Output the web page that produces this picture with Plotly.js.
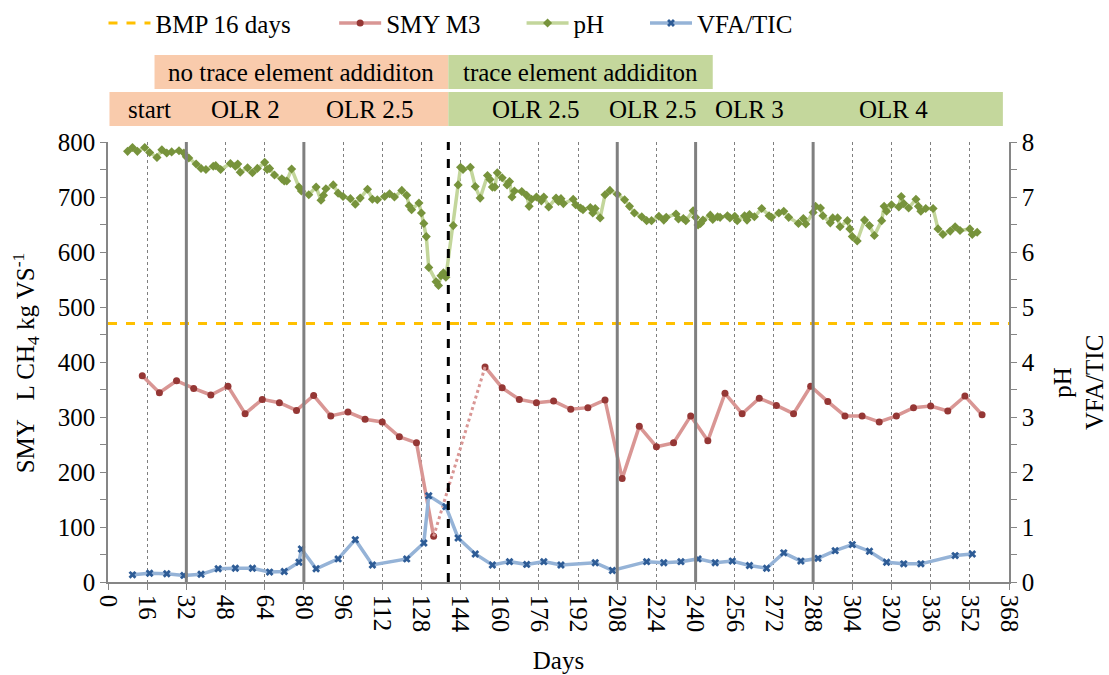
<!DOCTYPE html>
<html><head><meta charset="utf-8">
<script src="https://cdn.plot.ly/plotly-3.0.1.min.js"></script>
<style>html,body{margin:0;padding:0;background:#fff}#chart{width:1109px;height:675px}</style>
</head><body><div id="chart"></div>
<script>
// ---- data ----
const bmpValue = 470;                 // BMP 16 days (L CH4 / kg VS)
const dayRange = [0, 368];

const smyDaysBefore = [14,21,28,35,42,49,56,63,70,77,84,91,98,105,112,119,126,133];
const smyBefore     = [375,344,366,352,340,356,306,332,326,312,339,302,309,296,291,264,253,83];
const smyDaysAfter  = [154,161,168,175,182,189,196,203,210,217,224,231,238,245,252,259,266,273,280,287,294,301,308,315,322,329,336,343,350,357];
const smyAfter      = [391,353,332,326,329,314,317,331,188,283,246,253,302,257,343,306,334,321,306,356,328,302,302,291,302,317,320,311,338,304];

const phDays = [8,10,12,15,17,20,22,24,26,29,31,32,33,36,38,40,43,44,46,50,52,53,54,57,59,61,64,65,66,68,71,72,73,75,78,79,82,85,87,88,89,92,94,96,99,101,103,106,108,110,113,115,117,120,122,123,124,127,128,129,130,131,134,135,136,137,138,141,143,144,145,148,150,152,155,156,157,158,159,161,163,164,165,166,169,171,172,173,175,177,178,180,183,184,185,186,190,191,193,194,197,198,199,201,203,205,208,211,213,215,218,220,222,225,227,228,232,233,235,236,239,240,241,242,243,246,247,249,250,253,254,256,257,260,261,262,264,267,270,271,274,276,278,282,284,285,288,289,291,292,295,296,298,299,302,303,304,306,309,311,313,316,317,318,320,323,324,325,327,330,331,332,334,337,339,341,344,346,348,352,353,355];
const phValues = [7.83,7.90,7.83,7.90,7.81,7.72,7.86,7.80,7.82,7.84,7.80,7.73,7.71,7.60,7.52,7.50,7.56,7.57,7.50,7.61,7.56,7.60,7.45,7.53,7.44,7.52,7.63,7.50,7.52,7.40,7.33,7.29,7.29,7.51,7.18,7.11,7.04,7.18,6.94,7.03,7.15,7.22,7.07,7.01,6.97,6.87,6.98,7.14,6.96,6.95,7.01,7.06,7.00,7.12,7.03,6.84,6.77,6.89,6.71,6.52,6.28,5.72,5.46,5.39,5.57,5.62,5.54,6.48,7.22,7.54,7.50,7.54,7.19,6.98,7.39,7.32,7.18,7.18,7.44,7.35,7.22,7.28,7.00,7.11,7.10,7.03,6.83,6.96,7.00,6.93,7.00,6.82,6.98,6.92,6.97,6.88,6.96,6.86,6.80,6.77,6.81,6.71,6.79,6.62,7.04,7.12,7.05,6.95,6.83,6.71,6.64,6.57,6.57,6.65,6.58,6.63,6.69,6.60,6.61,6.57,6.75,6.63,6.49,6.52,6.58,6.67,6.59,6.64,6.63,6.66,6.62,6.65,6.57,6.66,6.58,6.68,6.64,6.79,6.66,6.63,6.71,6.74,6.63,6.52,6.61,6.51,6.72,6.83,6.80,6.66,6.53,6.62,6.62,6.46,6.57,6.42,6.28,6.20,6.58,6.48,6.30,6.57,6.83,6.74,6.86,6.82,7.01,6.88,6.80,6.96,6.83,6.74,6.79,6.79,6.42,6.32,6.38,6.46,6.39,6.42,6.32,6.36];

const vfaDays = [10,17,24,31,38,45,52,59,66,72,78,79,85,94,101,108,122,129,131,138,143,150,157,164,171,178,185,199,206,220,227,234,241,248,255,262,269,276,283,290,297,304,311,318,325,332,346,353];
const vfaValues = [0.13,0.16,0.15,0.12,0.14,0.24,0.25,0.25,0.18,0.19,0.36,0.60,0.24,0.42,0.77,0.31,0.42,0.71,1.57,1.37,0.80,0.51,0.31,0.37,0.32,0.37,0.31,0.35,0.21,0.37,0.35,0.37,0.42,0.35,0.38,0.30,0.25,0.53,0.38,0.43,0.57,0.68,0.56,0.36,0.33,0.33,0.48,0.51];

// phase boundaries (days)
const olrChanges = [32, 80, 208, 240, 288];
const traceElementStart = 139;
const treatmentBands = [
  {label: 'no trace element addiditon', from: 19, to: 139, color: '#F9CBAC'},
  {label: 'trace element addiditon', from: 139, to: 247, color: '#C4D79C'}
];
const olrBands = [
  {from: 0.6, to: 139, color: '#F9CBAC'},
  {from: 139, to: 365.5, color: '#C4D79C'}
];
const olrLabels = ['start', 'OLR 2', 'OLR 2.5', 'OLR 2.5', 'OLR 2.5', 'OLR 3', 'OLR 4'];
const olrLabelDays = [17, 56, 107, 175, 222.5, 262, 321];

// ---- chart ----
const FONT = '"Liberation Serif", serif';
const axisGrey = '#868686';
const row1 = [1.1203, 1.1975], row2 = [1.0363, 1.1135];
const txt = {family: FONT, size: 25, color: '#000'};

const traces = [
  {x: dayRange, y: dayRange.map(() => bmpValue), name: 'BMP 16 days', mode: 'lines',
   line: {color: '#FFC000', width: 3, dash: 'dash'}, legend: 'legend', hoverinfo: 'skip'},
  {x: smyDaysBefore, y: smyBefore, name: 'SMY M3', mode: 'lines+markers', legendgroup: 'smy',
   line: {color: '#D99694', width: 3.5}, marker: {color: '#953735', size: 7, symbol: 'circle'}, legend: 'legend2'},
  {x: smyDaysAfter, y: smyAfter, name: 'SMY M3', mode: 'lines+markers', legendgroup: 'smy', showlegend: false,
   line: {color: '#D99694', width: 3.5}, marker: {color: '#953735', size: 7, symbol: 'circle'}, legend: 'legend2'},
  {x: [smyDaysBefore[smyDaysBefore.length-1], smyDaysAfter[0]],
   y: [smyBefore[smyBefore.length-1], smyAfter[0]], mode: 'lines', legendgroup: 'smy', showlegend: false,
   line: {color: '#D99694', width: 3, dash: 'dot'}, hoverinfo: 'skip', legend: 'legend2'},
  {x: phDays, y: phValues, name: 'pH', mode: 'lines+markers', yaxis: 'y2',
   line: {color: '#C3D69B', width: 3.5}, marker: {color: '#77933C', size: 7, symbol: 'diamond'}, legend: 'legend3'},
  {x: vfaDays, y: vfaValues, name: 'VFA/TIC', mode: 'lines+markers', yaxis: 'y2',
   line: {color: '#95B3D7', width: 3.5}, marker: {color: '#2E5C96', size: 7, symbol: 'x'}, legend: 'legend4'}
];

const shapes = [];
treatmentBands.forEach(b => shapes.push({type: 'rect', xref: 'x', yref: 'paper', x0: b.from, x1: b.to,
  y0: row1[0], y1: row1[1], fillcolor: b.color, line: {width: 0}, layer: 'below'}));
olrBands.forEach(b => shapes.push({type: 'rect', xref: 'x', yref: 'paper', x0: b.from, x1: b.to,
  y0: row2[0], y1: row2[1], fillcolor: b.color, line: {width: 0}, layer: 'below'}));
olrChanges.forEach(d => shapes.push({type: 'line', xref: 'x', yref: 'paper', x0: d, x1: d, y0: 0, y1: 1,
  line: {color: '#808080', width: 3}}));
shapes.push({type: 'line', xref: 'x', yref: 'paper', x0: traceElementStart, x1: traceElementStart, y0: 0, y1: 1,
  line: {color: '#000000', width: 3, dash: 'dash'}});

const annotations = [];
treatmentBands.forEach(b => annotations.push({xref: 'x', yref: 'paper', x: (b.from + b.to) / 2,
  y: (row1[0] + row1[1]) / 2, xanchor: 'center', yanchor: 'middle', text: b.label, showarrow: false, font: txt}));
olrLabels.forEach((t, i) => annotations.push({xref: 'x', yref: 'paper', x: olrLabelDays[i],
  y: (row2[0] + row2[1]) / 2, xanchor: 'center', yanchor: 'middle', text: t, showarrow: false, font: txt}));
annotations.push({xref: 'paper', yref: 'paper', x: -0.091, y: 0.497, xanchor: 'center', yanchor: 'middle',
  textangle: -90, showarrow: false,
  text: 'SMY\u00A0\u00A0\u00A0L CH<sub>4</sub> kg VS<sup>-1</sup>', font: txt});
annotations.push({xref: 'paper', yref: 'paper', x: 1.077, y: 0.453, xanchor: 'center', yanchor: 'middle',
  textangle: -90, showarrow: false, text: 'pH<br>VFA/TIC', font: txt});

const legendBase = {orientation: 'h', yanchor: 'middle', y: 1.27, xanchor: 'left',
  font: txt, bgcolor: 'rgba(0,0,0,0)', itemwidth: 42, borderwidth: 0};

const layout = {
  width: 1109, height: 675,
  margin: {l: 108, r: 100, t: 142, b: 93, autoexpand: false},
  paper_bgcolor: '#fff', plot_bgcolor: '#fff',
  font: {family: FONT, color: '#000'},
  showlegend: true,
  legend:  Object.assign({}, legendBase, {x: -0.005}),
  legend2: Object.assign({}, legendBase, {x: 0.251}),
  legend3: Object.assign({}, legendBase, {x: 0.459}),
  legend4: Object.assign({}, legendBase, {x: 0.596}),
  xaxis: {range: dayRange, tick0: 0, dtick: 16, tickangle: 90, tickfont: txt,
    showgrid: true, gridcolor: '#7f7f7f', griddash: 'dot', gridwidth: 1,
    showline: true, linecolor: axisGrey, linewidth: 1.5, ticks: 'outside', ticklen: 6, tickcolor: axisGrey,
    zeroline: false, title: {text: 'Days', font: txt, standoff: 20}},
  yaxis: {range: [0, 800], dtick: 100, tickfont: txt, showgrid: false, zeroline: false,
    showline: true, linecolor: axisGrey, linewidth: 1.5, ticks: 'outside', ticklen: 6, tickcolor: axisGrey,
    minor: {dtick: 50, ticks: 'outside', ticklen: 6, tickcolor: axisGrey, showgrid: false}},
  yaxis2: {range: [0, 8], dtick: 1, overlaying: 'y', side: 'right', tickfont: txt, showgrid: false, zeroline: false,
    showline: true, linecolor: axisGrey, linewidth: 1.5, ticks: 'outside', ticklen: 6, tickcolor: axisGrey,
    minor: {dtick: 0.5, ticks: 'outside', ticklen: 6, tickcolor: axisGrey, showgrid: false}},
  shapes: shapes,
  annotations: annotations
};

Plotly.newPlot('chart', traces, layout, {displayModeBar: false, responsive: false});
</script>
</body></html>
